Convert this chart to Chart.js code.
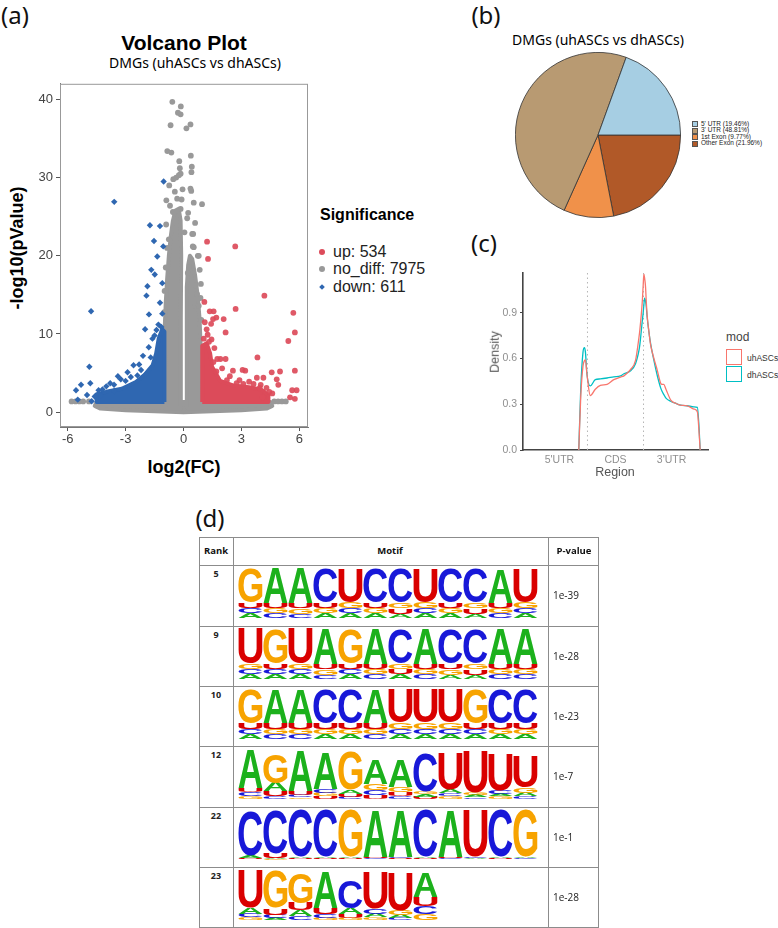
<!DOCTYPE html>
<html>
<head>
<meta charset="utf-8">
<script src="https://cdn.jsdelivr.net/npm/chart.js@4.4.0/dist/chart.umd.min.js"></script>
<style>
  body { margin:0; background:#fff; width:778px; height:928px; position:relative; overflow:hidden; font-family:"Liberation Sans", Arial, sans-serif; }
  .t { position:absolute; white-space:nowrap; line-height:1; }
  .c { transform:translate(-50%,-50%); }
  .l { transform:translate(0,-50%); }
  .rot { transform:translate(-50%,-50%) rotate(-90deg); }
  .panel { font-family:"Noto Sans"; font-size:24px; color:#111; }
  .box { position:absolute; }
  canvas { position:absolute; }
  .hl { position:absolute; height:1px; background:#8c8c8c; }
  .vl { position:absolute; width:1px; background:#8c8c8c; }
</style>
</head>
<body>

<!-- panel labels -->
<div class="t c panel" style="left:15px;top:15px">(a)</div>
<div class="t c panel" style="left:486px;top:15px">(b)</div>
<div class="t c panel" style="left:484px;top:243px">(c)</div>
<div class="t c panel" style="left:210px;top:518px">(d)</div>

<!-- (a) volcano -->
<div class="t c" style="left:184px;top:42px;font-size:21px;font-weight:bold">Volcano Plot</div>
<div class="t c" style="left:195px;top:63px;font-size:14px;font-family:'Noto Sans'">DMGs (uhASCs vs dhASCs)</div>
<div class="t rot" style="left:17px;top:248px;font-size:18px;font-weight:bold">-log10(pValue)</div>
<div class="t c" style="left:184px;top:467px;font-size:18px;font-weight:bold">log2(FC)</div>
<canvas id="volcano" width="292" height="384" style="left:20px;top:73px"></canvas>
<div class="t l" style="left:320px;top:215px;font-size:16px;font-weight:bold">Significance</div>
<div class="box" style="left:319px;top:249px;width:6px;height:6px;border-radius:50%;background:#dc4b5a"></div>
<div class="t l" style="left:333px;top:252px;font-size:16px;color:#222">up: 534</div>
<div class="box" style="left:319px;top:266px;width:6px;height:6px;border-radius:50%;background:#999"></div>
<div class="t l" style="left:333px;top:269px;font-size:16px;color:#222">no_diff: 7975</div>
<div class="box" style="left:320px;top:285px;width:4px;height:4px;transform:rotate(45deg);background:#2f67b1"></div>
<div class="t l" style="left:333px;top:287px;font-size:16px;color:#222">down: 611</div>

<!-- (b) pie -->
<div class="t c" style="left:598px;top:40px;font-size:14px;font-family:'Noto Sans'">DMGs (uhASCs vs dhASCs)</div>
<canvas id="pie" width="166" height="166" style="left:515px;top:52px"></canvas>
<div id="pieLegend"></div>

<!-- (c) density -->
<canvas id="density" width="220" height="205" style="left:493px;top:263px"></canvas>
<div class="t rot" style="left:495px;top:352px;font-size:12.5px;color:#555">Density</div>
<div class="t c" style="left:615px;top:472px;font-size:12.5px;color:#555">Region</div>
<div class="t l" style="left:726px;top:337px;font-size:12px;color:#444">mod</div>
<div class="box" style="left:726px;top:349px;width:14px;height:14px;border:1.6px solid #F8766D"></div>
<div class="t l" style="left:747px;top:358px;font-size:8.5px;color:#333">uhASCs</div>
<div class="box" style="left:726px;top:366px;width:14px;height:14px;border:1.6px solid #00BFC4"></div>
<div class="t l" style="left:747px;top:375px;font-size:8.5px;color:#333">dhASCs</div>

<!-- (d) motif table -->
<div id="table"></div>

<script>
// ---------- (a) volcano data (log2FC, -log10 p) ----------
const volXTicks = [-6, -3, 0, 3, 6];
const volYTicks = [0, 10, 20, 30, 40];

const upPoints = [[1.22,21.8],[2.68,21.2],[1.27,19.6],[4.19,14.9],[1.08,14.1],[2.70,13.2],[1.36,12.9],[1.56,12.9],
  [5.69,12.7],[1.70,12.1],[1.53,11.9],[2.08,11.9],[1.43,11.3],[5.77,10.2],[2.18,10.2],[1.25,9.9],[5.43,9.1],
  [3.83,7.0],[1.91,6.8],[2.18,6.8],[2.56,5.3],[3.20,5.3],[5.77,5.3],[4.57,5.1],[5.00,5.2],[3.06,5.4],[3.80,4.4],
  [4.14,4.4],[4.83,4.2],[4.91,3.5],[5.63,2.8],[5.86,2.8],[5.52,1.9],[5.77,1.7],[3.63,3.6],[1.60,8.2],[1.45,9.3],
  [1.20,10.6],[1.10,11.5],[1.75,6.8],[2.00,5.6],[2.40,4.6],[2.90,4.1],[3.40,3.9],[4.00,3.5],[4.30,3.1],[4.60,2.4],
  [4.10,1.9],[1.05,9.4],[1.32,9.0],[2.25,4.1],[2.75,3.7],[3.1,3.6],[3.95,3.1],[4.45,2.6],[1.7,5.2],[1.55,6.4]];

const downPoints = [[-1.03,29.5],[-3.59,26.9],[-1.74,23.9],[-1.22,23.8],[-1.53,21.9],[-1.05,21.2],[-1.36,19.9],
  [-1.67,18.2],[-1.49,17.6],[-1.87,16.1],[-1.10,16.5],[-1.92,14.9],[-1.22,14.0],[-1.79,12.5],[-1.10,12.6],
  [-4.79,12.9],[-1.99,10.6],[-1.61,9.4],[-4.88,5.8],[-2.59,6.0],[-5.31,3.5],[-5.57,2.8],[-4.83,3.7],[-5.00,2.2],
  [-4.76,1.4],[-5.48,1.6],[-3.80,3.7],[-3.25,4.2],[-2.73,4.5],[-2.39,4.7],[-1.96,4.8],[-4.28,2.1],[-3.59,2.7],
  [-1.30,11.2],[-1.50,9.8],[-1.80,8.3],[-2.10,7.2],[-2.30,6.1],[-1.40,10.5],[-2.90,5.1],[-3.40,4.6],[-4.00,3.3],
  [-4.40,2.8],[-4.60,2.0],[-1.15,10.9],[-1.7,7.0],[-2.2,5.4],[-3.0,4.0],[-3.6,3.5],[-4.2,2.9]];

const grayPoints = [[-0.58,39.7],[-0.14,39.1],[-0.29,38.3],[-0.15,38.1],[-0.67,36.7],[0.36,36.8],[0.15,36.3],
  [-0.84,33.4],[-0.63,33.2],[0.38,32.8],[-0.22,32.1],[0.43,31.4],[-0.19,31.2],[0.41,30.7],[-0.15,30.5],
  [-0.24,30.3],[-0.38,30.0],[-0.53,29.8],[-0.74,29.0],[0.36,28.6],[0.40,28.3],[-0.89,27.1],[-0.33,27.3],
  [-0.10,27.2],[0.53,26.8],[0.96,26.6],[-0.15,26.0],[-0.55,25.6],[0.24,25.5],[0.19,24.8],[0.45,22.8],
  [-0.76,22.1],[0.53,21.1],[0.74,20.0],[0.33,19.2],[0.84,18.2],[0.88,14.6],[0.62,13.6],[0.50,22.8],[0.48,21.2],
  [0.79,20.0],[0.22,17.8],[0.62,16.2],[0.70,15.1],[0.79,13.6],[-0.45,28.2],[-0.70,26.4],[-0.05,28.5],
  [-0.90,24.0],[0.05,23.0],[0.60,24.2],[-0.85,21.0],[-0.92,18.5],[-0.98,15.5],[-1.0,12.8],[0.92,11.8],[0.9,16.4],
  [-5.8,1.37],[-5.6,1.37],[-5.4,1.37],[-5.2,1.37],[-4.9,1.37],[4.7,1.37],[4.9,1.37],[5.1,1.37],[5.3,1.37]];

// outlines of the dense, fully overlapping point clouds
const grayBase = [[-4.5,1.3],[4.5,1.3],[4.6,0.8],[4.3,0.45],[3.0,0.25],[1.5,0.1],[0,0.0],[-1.5,0.1],[-3.0,0.25],[-4.3,0.45],[-4.6,0.8],[-4.5,1.3]];
const grayLeftCore = [[-0.92,0.5],[-0.95,6],[-0.97,11],[-0.92,14],[-0.85,17],[-0.76,20],[-0.66,22.5],[-0.55,24.5],[-0.42,25.8],
  [-0.25,26],[-0.15,24.5],[-0.12,20],[-0.14,12],[-0.14,0.5],[-0.92,0.5]];
const grayRightCore = [[0.16,0.5],[0.16,12.5],[0.18,16],[0.24,18.8],[0.33,20],[0.45,19.6],[0.6,17.5],[0.73,15],[0.83,12],
  [0.88,9],[0.88,0.5],[0.16,0.5]];
const upCore = [[0.97,1.3],[0.97,8.5],[1.2,8.8],[1.38,7.5],[1.48,5.8],[1.9,4.0],[2.6,3.4],[3.4,3.2],[4.0,2.9],[4.4,2.2],[4.4,1.3],[0.97,1.3]];
const downCore = [[-0.99,1.3],[-0.99,10.3],[-1.1,10.6],[-1.28,9.5],[-1.42,7.5],[-1.6,6],[-2.0,4.8],[-2.5,3.8],[-3.2,3.0],
  [-4.0,2.6],[-4.5,2.3],[-4.5,1.3],[-0.99,1.3]];

// ---------- (b) pie data ----------
const pieLabels = ["5' UTR (19.46%)", "3' UTR (48.81%)", "1st Exon (9.77%)", "Other Exon (21.96%)"];
const pieValues = [19.46, 48.81, 9.77, 21.96];
const pieColors = ['#A6CEE3', '#B89A72', '#F0914A', '#B15928'];

// ---------- (c) density data ----------
const densX  = [0.845,0.88,0.92,0.946,0.964,0.99,1.05,1.14,1.23,1.35,1.47,1.59,1.65,1.77,1.857,1.917,1.935,1.976,1.994,
  2.006,2.018,2.036,2.048,2.065,2.095,2.125,2.185,2.244,2.304,2.33,2.36,2.4,2.49,2.58,2.66,2.78,2.9,2.96,2.99,3.01];
const densUh = [0,0.35,0.55,0.585,0.591,0.5,0.357,0.398,0.423,0.43,0.461,0.478,0.486,0.528,0.587,0.734,0.79,0.964,1.08,
  1.153,1.13,1.069,0.98,0.88,0.78,0.692,0.6,0.524,0.44,0.43,0.43,0.398,0.325,0.305,0.294,0.29,0.268,0.25,0.12,0];
const densDh = [0,0.4,0.64,0.671,0.64,0.5,0.42,0.461,0.466,0.472,0.48,0.486,0.5,0.52,0.566,0.65,0.692,0.84,0.901,
  0.95,0.996,0.975,0.943,0.87,0.776,0.7,0.587,0.49,0.409,0.385,0.365,0.34,0.318,0.305,0.294,0.29,0.283,0.28,0.149,0];
const densXTicks = [0.5, 1.5, 2.5];
const densXLabels = ["5'UTR", 'CDS', "3'UTR"];
const densYTicks = [0, 0.3, 0.6, 0.9];
const regionBreaks = [1, 2];

// ---------- (d) motif table data ----------
const motifRanks = ['5', '9', '10', '12', '22', '23'];
const motifPValues = ['1e-39', '1e-28', '1e-23', '1e-7', '1e-1', '1e-28'];
// each column: letters from top (consensus) to bottom, and their heights in bits
const motif1Letters = ['GUCA','AUGC','AUGC','CUGA','UGCA','CUGA','CGUA','UGCA','CUGA','CGUA','AUGC','UGCA'];
const motif1Heights = [[1.34,.22,.2,.18],[1.36,.22,.19,.18],[1.35,.22,.2,.17],[1.36,.21,.2,.18],[1.33,.23,.2,.18],[1.36,.21,.2,.18],
  [1.36,.22,.2,.17],[1.33,.23,.2,.18],[1.36,.21,.2,.18],[1.36,.22,.2,.17],[1.34,.22,.2,.18],[1.33,.23,.2,.18]];
const motif2Letters = ['UGCA','GUCA','UGCA','AUGC','GUCA','AUGC','CGUA','AUGC','CUGA','CGUA','AUGC','AUGC'];
const motif2Heights = [[1.35,.22,.2,.18],[1.34,.22,.2,.18],[1.35,.21,.2,.18],[1.36,.22,.2,.17],[1.34,.22,.2,.18],[1.36,.21,.2,.18],
  [1.36,.22,.19,.18],[1.36,.21,.2,.18],[1.36,.22,.2,.17],[1.36,.22,.2,.17],[1.36,.21,.2,.18],[1.35,.22,.2,.18]];
const motif3Letters = ['GUCA','AUGC','AUGC','CUGA','CUGA','AUGC','UGCA','UGCA','UGCA','GUCA','CUGA','CUGA'];
const motif3Heights = [[1.32,.24,.2,.18],[1.33,.23,.2,.18],[1.33,.23,.2,.18],[1.32,.23,.21,.18],[1.32,.23,.21,.18],[1.33,.23,.2,.18],
  [1.3,.24,.21,.19],[1.3,.24,.21,.19],[1.3,.24,.21,.19],[1.32,.24,.2,.18],[1.32,.23,.21,.18],[1.32,.23,.21,.18]];
const motif4Letters = ['AUCG','GAUC','AUCG','ACGU','GAUC','AGCU','AGUC','CGAU','UACG','UGAC','UCAG','UGAC'];
const motif4Heights = [[1.52,.17,.14,.12],[1.12,.33,.2,.1],[1.56,.16,.1,.06],[1.4,.16,.14,.1],[1.48,.16,.12,.08],[0.96,.24,.2,.14],
  [1.08,.2,.16,.1],[1.48,.1,.1,.08],[1.4,.14,.12,.1],[1.6,.1,.08,.06],[1.4,.14,.1,.1],[1.2,.2,.14,.1]];
const motif5Letters = ['CAUG','CUAG','CAUG','CAUG','GAUC','AUCG','ACUG','CAUG','AUCG','UCAG','CAUG','GACU'];
const motif5Heights = [[1.76,.12,.04,.02],[1.7,.18,.04,.03],[1.84,.06,.04,.02],[1.84,.06,.04,.02],[1.84,.06,.04,.02],[1.84,.06,.04,.02],
  [1.84,.06,.04,.02],[1.84,.06,.04,.02],[1.84,.06,.04,.02],[1.84,.06,.04,.02],[1.84,.06,.04,.02],[1.84,.06,.04,.02]];
const motif6Letters = ['UACG','GUCA','GUAC','AUCG','CAUG','UCAG','UGAC','AUCG'];
const motif6Heights = [[1.45,.26,.14,.1],[1.45,.27,.13,.08],[1.18,.28,.24,.14],[1.41,.25,.14,.08],[1.1,.24,.14,.09],[1.41,.22,.15,.1],
  [1.49,.18,.13,.08],[0.98,.35,.3,.25]];
const letterColors = { A:'#1cb11c', C:'#1818d8', G:'#f7a300', U:'#d90000' };

Chart.defaults.font.family = '"Liberation Sans", Arial, sans-serif';
Chart.defaults.animation = false;

const frame = {
  id: 'frame',
  afterDraw(chart, args, opts) {
    const a = chart.chartArea, ctx = chart.ctx;
    ctx.save();
    ctx.strokeStyle = opts.color || '#999';
    ctx.lineWidth = 1;
    ctx.strokeRect(a.left + 0.5, a.top + 0.5, a.right - a.left - 1, a.bottom - a.top - 1);
    ctx.restore();
  }
};

// ---------- volcano ----------
const toXY = pts => pts.map(p => ({ x: p[0], y: p[1] }));
function cloud(pts, color, order) {
  return { data: toXY(pts), showLine: true, fill: 'shape', backgroundColor: color, borderColor: color,
    borderWidth: 4, borderJoinStyle: 'round', pointRadius: 0, order: order };
}
new Chart(document.getElementById('volcano'), {
  type: 'scatter',
  data: {
    datasets: [
      cloud(grayBase, '#999999', 10),
      cloud(grayLeftCore, '#999999', 9),
      cloud(grayRightCore, '#999999', 9),
      cloud(upCore, '#dc4b5a', 8),
      cloud(downCore, '#2f67b1', 8),
      { data: toXY(grayPoints), backgroundColor: '#999999', pointRadius: 2.9, borderWidth: 0, order: 5 },
      { data: toXY(upPoints), backgroundColor: 'rgba(220,75,90,0.92)', pointRadius: 2.9, borderWidth: 0, order: 2 },
      { data: toXY(downPoints), backgroundColor: '#2f67b1', pointStyle: 'rectRot', pointRadius: 3.2, borderWidth: 0, order: 2 }
    ]
  },
  options: {
    responsive: false,
    layout: { padding: { top: 2, right: 4, left: 0, bottom: 0 } },
    plugins: { legend: { display: false }, tooltip: { enabled: false }, frame: { color: '#999' } },
    scales: {
      x: {
        type: 'linear', min: -6.4, max: 6.45,
        afterBuildTicks: s => { s.ticks = volXTicks.map(v => ({ value: v })); },
        afterFit: s => { s.height = 30; },
        grid: { drawOnChartArea: false, tickLength: 4, color: '#555' },
        border: { color: '#777' },
        ticks: { color: '#444', font: { size: 13 }, padding: 1, maxRotation: 0 }
      },
      y: {
        type: 'linear', min: -1.9, max: 42,
        afterBuildTicks: s => { s.ticks = volYTicks.map(v => ({ value: v })); },
        afterFit: s => { s.width = 40; },
        grid: { drawOnChartArea: false, tickLength: 4, color: '#555' },
        border: { color: '#777' },
        ticks: { color: '#444', font: { size: 13 }, padding: 3 }
      }
    }
  },
  plugins: [frame]
});

// ---------- pie (R draws counter-clockwise from 3 o'clock) ----------
new Chart(document.getElementById('pie'), {
  type: 'pie',
  data: {
    labels: pieLabels.slice().reverse(),
    datasets: [{ data: pieValues.slice().reverse(), backgroundColor: pieColors.slice().reverse(),
      borderColor: '#333', borderWidth: 0.8 }]
  },
  options: {
    responsive: false, rotation: 90,
    layout: { padding: 0 },
    plugins: { legend: { display: false }, tooltip: { enabled: false } }
  }
});
const pl = document.getElementById('pieLegend');
pieLabels.forEach((lab, i) => {
  const y = 123.5 + i * 6.6;
  pl.insertAdjacentHTML('beforeend',
    `<div class="box" style="left:692px;top:${y - 2.3}px;width:4px;height:4px;background:${pieColors[i]};border:0.5px solid #555"></div>` +
    `<div class="t l" style="left:701px;top:${y}px;font-size:6.5px;color:#222">${lab}</div>`);
});

// ---------- density ----------
new Chart(document.getElementById('density'), {
  type: 'line',
  data: {
    datasets: [
      { data: densX.map((x, i) => ({ x: x, y: densUh[i] })), borderColor: '#F8766D', borderWidth: 1.3,
        pointRadius: 0, cubicInterpolationMode: 'monotone' },
      { data: densX.map((x, i) => ({ x: x, y: densDh[i] })), borderColor: '#00BFC4', borderWidth: 1.3,
        pointRadius: 0, cubicInterpolationMode: 'monotone' },
      ...regionBreaks.map(b => ({ data: [{ x: b, y: 0 }, { x: b, y: 1.2 }], borderColor: '#b5b5b5',
        borderWidth: 1, borderDash: [1.5, 3], pointRadius: 0 }))
    ]
  },
  options: {
    responsive: false,
    layout: { padding: { top: 2, right: 5, left: 0, bottom: 0 } },
    plugins: { legend: { display: false }, tooltip: { enabled: false } },
    scales: {
      x: {
        type: 'linear', min: -0.15, max: 3.15,
        afterBuildTicks: s => { s.ticks = densXTicks.map(v => ({ value: v })); },
        afterFit: s => { s.height = 18; },
        grid: { drawOnChartArea: false, drawTicks: false },
        border: { color: '#444', width: 1.6 },
        ticks: { color: '#8f8f8f', font: { size: 10.5 }, padding: 4, maxRotation: 0,
          callback: v => densXLabels[densXTicks.indexOf(v)] }
      },
      y: {
        type: 'linear', min: 0, max: 1.165,
        afterBuildTicks: s => { s.ticks = densYTicks.map(v => ({ value: v })); },
        afterFit: s => { s.width = 30; },
        grid: { drawOnChartArea: false, tickLength: 3, color: '#444' },
        border: { color: '#444', width: 1.6 },
        ticks: { color: '#8f8f8f', font: { size: 10.5 }, padding: 3, callback: v => v.toFixed(1) }
      }
    }
  }
});

// ---------- motif table ----------
const rowTops = [565, 626, 686, 746, 807, 867];
const tbl = document.getElementById('table');
const tl = 199, tt = 537, tw = 400, tb = 927;
let html = '';
html += `<div class="hl" style="left:${tl}px;top:${tt}px;width:${tw}px"></div>`;
rowTops.forEach(y => { html += `<div class="hl" style="left:${tl}px;top:${y}px;width:${tw}px"></div>`; });
html += `<div class="hl" style="left:${tl}px;top:${tb}px;width:${tw}px"></div>`;
[tl, 233, 548, tl + tw - 1].forEach(x => { html += `<div class="vl" style="left:${x}px;top:${tt}px;height:${tb - tt + 1}px"></div>`; });
const hf = "font-family:'Open Sans';font-weight:bold;font-size:9.5px;color:#111";
html += `<div class="t c" style="left:216px;top:551px;${hf}">Rank</div>`;
html += `<div class="t c" style="left:390px;top:551px;${hf}">Motif</div>`;
html += `<div class="t c" style="left:574px;top:551px;${hf}">P-value</div>`;
rowTops.forEach((y, r) => {
  html += `<div class="t c" style="left:216px;top:${y + 8}px;font-family:'Open Sans';font-weight:bold;font-size:9px;color:#222">${motifRanks[r]}</div>`;
  html += `<div class="t l" style="left:553px;top:${y + 30}px;font-family:'Open Sans';font-size:10px;color:#222">${motifPValues[r]}</div>`;
  html += `<canvas id="logo${r}" width="300" height="51" style="left:238px;top:${y + 2}px"></canvas>`;
});
tbl.innerHTML = html;

function drawGlyph(ctx, ch, x, y, w, h) {
  ctx.save();
  ctx.font = 'bold 100px "Liberation Sans"';
  ctx.textAlign = 'left';
  ctx.textBaseline = 'alphabetic';
  const m = ctx.measureText(ch);
  const gl = m.actualBoundingBoxLeft, gr = m.actualBoundingBoxRight;
  const ga = m.actualBoundingBoxAscent, gd = m.actualBoundingBoxDescent;
  ctx.translate(x, y);
  ctx.scale(w / (gl + gr), h / (ga + gd));
  ctx.fillStyle = letterColors[ch];
  ctx.fillText(ch, gl, ga);
  ctx.restore();
}

const logoLetters = {
  id: 'logo',
  afterDatasetsDraw(chart, args, opts) {
    const ctx = chart.ctx;
    chart.data.datasets.forEach((ds, di) => {
      chart.getDatasetMeta(di).data.forEach((bar, i) => {
        const col = opts.letters[i];
        if (!col) return;
        const p = bar.getProps(['x', 'y', 'base', 'width'], true);
        const h = p.base - p.y;
        if (!(h > 0.3)) return;
        drawGlyph(ctx, col[ds.level], p.x - p.width / 2 + 0.5, p.y, p.width - 1, h);
      });
    });
  }
};

const motifLetters = [motif1Letters, motif2Letters, motif3Letters, motif4Letters, motif5Letters, motif6Letters];
const motifHeights = [motif1Heights, motif2Heights, motif3Heights, motif4Heights, motif5Heights, motif6Heights];
const positions = ['1','2','3','4','5','6','7','8','9','10','11','12'];

motifLetters.forEach((letters, r) => {
  const heights = motifHeights[r];
  // stacked bottom-up: smallest letter first, consensus letter on top
  const datasets = [3, 2, 1, 0].map(level => ({
    level: level,
    data: positions.map((p, i) => heights[i] ? heights[i][level] : null),
    backgroundColor: 'rgba(0,0,0,0)', borderWidth: 0,
    barPercentage: 1, categoryPercentage: 1, stack: 's'
  }));
  new Chart(document.getElementById('logo' + r), {
    type: 'bar',
    data: { labels: positions, datasets: datasets },
    options: {
      responsive: false,
      layout: { padding: 0 },
      plugins: { legend: { display: false }, tooltip: { enabled: false }, logo: { letters: letters } },
      scales: {
        x: { display: false, stacked: true },
        y: { display: false, stacked: true, min: 0, max: 2 }
      }
    },
    plugins: [logoLetters]
  });
});
</script>
</body>
</html>
